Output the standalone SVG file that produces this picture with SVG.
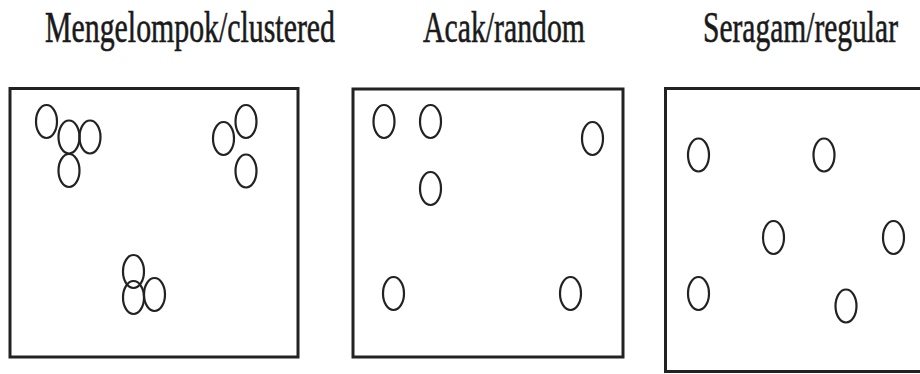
<svg xmlns="http://www.w3.org/2000/svg" width="920" height="374" viewBox="0 0 920 374">
<style>
.bg{fill:#fff}
.t{font-family:"Liberation Serif","Times New Roman",serif;font-size:44px;fill:#1a1a1a;stroke:#1a1a1a;stroke-width:0.6}
.box{fill:#fff;stroke:#222;stroke-width:3}
.c{fill:none;stroke:#222;stroke-width:2.2}
</style>
<rect class="bg" x="0" y="0" width="920" height="374"/>
<g id="clustered">
<text class="t" transform="translate(45,42) scale(0.678,1)" x="0" y="0" textLength="427.7" lengthAdjust="spacingAndGlyphs">Mengelompok/clustered</text>
<rect class="box" x="10" y="88.5" width="288" height="268.5"/>
<ellipse class="c" cx="46.5" cy="121.5" rx="10.5" ry="16.5"/>
<ellipse class="c" cx="69" cy="137" rx="10.5" ry="16.5"/>
<ellipse class="c" cx="90" cy="137" rx="10.5" ry="16.5"/>
<ellipse class="c" cx="69" cy="170.5" rx="10.5" ry="16.5"/>
<ellipse class="c" cx="223.5" cy="138.5" rx="10.5" ry="16.5"/>
<ellipse class="c" cx="246" cy="121.5" rx="10.5" ry="16.5"/>
<ellipse class="c" cx="246" cy="171" rx="10.5" ry="16.5"/>
<ellipse class="c" cx="133.5" cy="271.5" rx="10.5" ry="16.5"/>
<ellipse class="c" cx="133.5" cy="297.5" rx="10.5" ry="16.5"/>
<ellipse class="c" cx="154.5" cy="294.5" rx="10.5" ry="16.5"/>
</g>
<g id="random">
<text class="t" transform="translate(423,42) scale(0.676,1)" x="0" y="0" textLength="239.6" lengthAdjust="spacingAndGlyphs">Acak/random</text>
<rect class="box" x="353" y="89" width="270" height="268"/>
<ellipse class="c" cx="384" cy="121.5" rx="10.5" ry="16.5"/>
<ellipse class="c" cx="430.5" cy="121.5" rx="10.5" ry="16.5"/>
<ellipse class="c" cx="592.5" cy="138.5" rx="10.5" ry="16.5"/>
<ellipse class="c" cx="430.5" cy="188.5" rx="10.5" ry="16.5"/>
<ellipse class="c" cx="393.5" cy="293.5" rx="10.5" ry="16.5"/>
<ellipse class="c" cx="570.5" cy="293.5" rx="10.5" ry="16.5"/>
</g>
<g id="regular">
<text class="t" transform="translate(703,42) scale(0.67,1)" x="0" y="0" textLength="291" lengthAdjust="spacingAndGlyphs">Seragam/regular</text>
<rect class="box" x="665.5" y="88.5" width="270" height="283"/>
<ellipse class="c" cx="698.5" cy="155" rx="10.5" ry="16.5"/>
<ellipse class="c" cx="824" cy="155" rx="10.5" ry="16.5"/>
<ellipse class="c" cx="773.5" cy="237.5" rx="10.5" ry="16.5"/>
<ellipse class="c" cx="893.5" cy="237.5" rx="10.5" ry="16.5"/>
<ellipse class="c" cx="698.5" cy="293.5" rx="10.5" ry="16.5"/>
<ellipse class="c" cx="846" cy="306" rx="10.5" ry="16.5"/>
</g>
<g id="connectors"></g>
</svg>
